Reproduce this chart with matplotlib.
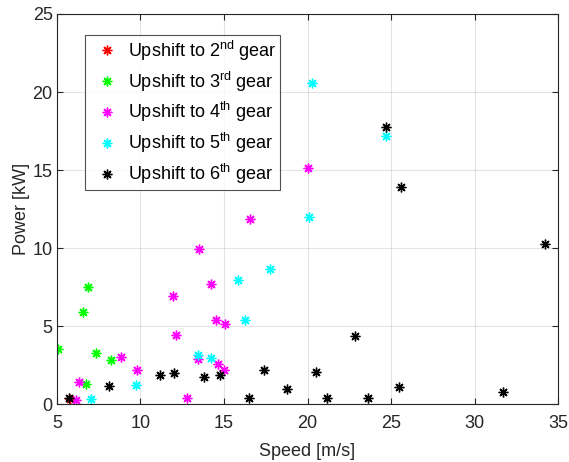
import matplotlib
matplotlib.use("Agg")
import matplotlib.pyplot as plt

plt.rcParams['font.family'] = ['Liberation Sans', 'DejaVu Sans']
plt.rcParams['mathtext.fontset'] = 'custom'
plt.rcParams['mathtext.rm'] = 'Liberation Sans'
plt.rcParams['mathtext.it'] = 'Liberation Sans'

labels = ['Upshift to 2$^{\\mathrm{nd}}$ gear', 'Upshift to 3$^{\\mathrm{rd}}$ gear',
          'Upshift to 4$^{\\mathrm{th}}$ gear', 'Upshift to 5$^{\\mathrm{th}}$ gear',
          'Upshift to 6$^{\\mathrm{th}}$ gear']
colors = ['#ff0000', '#00ff00', '#ff00ff', '#00ffff', '#000000']

g2_speed = [5.8]
g2_power = [0.35]
g3_speed = [5.06, 6.55, 6.87, 7.33, 8.23, 6.75]
g3_power = [3.53, 5.88, 7.5, 3.29, 2.84, 1.30]
g4_speed = [8.86, 9.82, 12.15, 6.34, 6.16, 12.79, 13.51, 14.24, 14.54, 15.06,
            13.47, 14.64, 15.02, 11.93, 16.57, 20.02]
g4_power = [3.03, 2.18, 4.44, 1.41, 0.26, 0.38, 9.92, 7.69, 5.38, 5.15,
            2.90, 2.54, 2.18, 6.92, 11.86, 15.13]
g5_speed = [7.07, 9.72, 13.45, 14.24, 15.86, 16.23, 17.75, 20.06, 20.24, 24.68]
g5_power = [0.34, 1.24, 3.16, 2.93, 7.93, 5.38, 8.63, 11.99, 20.6, 17.18]
g6_speed = [5.72, 8.11, 11.19, 12.01, 13.83, 14.78, 17.39, 16.49, 18.77, 20.5,
            21.17, 22.83, 23.6, 24.68, 25.6, 34.2, 25.48, 31.7]
g6_power = [0.38, 1.17, 1.84, 1.99, 1.73, 1.84, 2.20, 0.38, 0.98, 2.07,
            0.36, 4.36, 0.36, 17.78, 13.89, 10.24, 1.07, 0.77]

series = [(g2_speed, g2_power), (g3_speed, g3_power), (g4_speed, g4_power),
          (g5_speed, g5_power), (g6_speed, g6_power)]

fig = plt.figure(figsize=(5.69, 4.62), dpi=100)
ax = fig.add_axes([0.1, 0.1255, 0.881, 0.8442])

asterisk = (8, 2, 0)
for (xs, ys), c, lab in zip(series, colors, labels):
    ax.plot(xs, ys, linestyle='none', marker=asterisk, markersize=7,
            markeredgewidth=1.0, color=c, label=lab)

ax.set_xlim(5, 35)
ax.set_ylim(0, 25)
ax.set_xticks([5, 10, 15, 20, 25, 30, 35])
ax.set_yticks([0, 5, 10, 15, 20, 25])
ax.grid(True, color='#262626', alpha=0.12, linewidth=0.8)
ax.set_axisbelow(True)
for s in ax.spines.values():
    s.set_color('#262626')
    s.set_linewidth(0.8)
ax.tick_params(direction='in', length=4, width=0.8, colors='#262626',
               labelsize=13, top=True, right=True)
ax.tick_params(axis='x', pad=8)
ax.tick_params(axis='y', pad=3)
ax.set_xlabel('Speed [m/s]', fontsize=13, color='#262626', labelpad=8)
ax.set_ylabel('Power [kW]', fontsize=13, color='#262626', labelpad=2)

leg = ax.legend(loc='upper left', bbox_to_anchor=(0.056, 0.946), fontsize=13,
                frameon=True, fancybox=False, edgecolor='#262626',
                handletextpad=0.2, borderpad=0.2, labelspacing=0.37,
                handlelength=2.0, borderaxespad=0)
leg.get_frame().set_linewidth(0.8)

fig.savefig('out.png', dpi=100)
